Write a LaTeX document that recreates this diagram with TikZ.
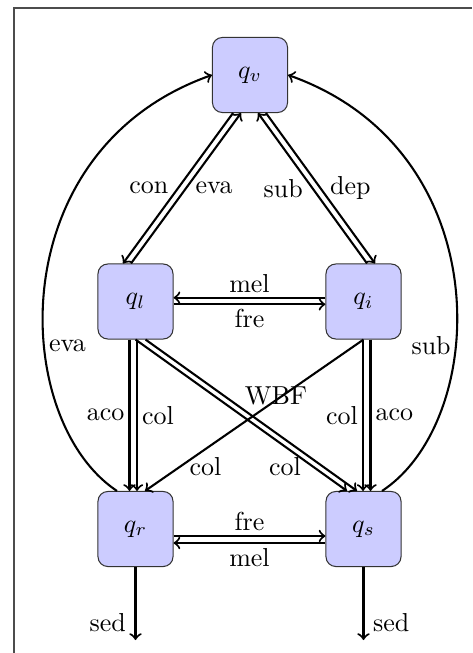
\documentclass[tikz,border=0pt]{standalone}
\usetikzlibrary{calc}
\begin{document}
\begin{tikzpicture}[x=0.385pt,y=-0.385pt,
  state/.style={draw=black!80, fill=blue!20, rounded corners=3.8pt, minimum width=28.9pt, minimum height=28.9pt, inner sep=0pt},
  arr/.style={->, thick},
  near/.style={inner sep=1.6pt},
  frameline/.style={draw=black!70, line width=0.45pt}]
\useasboundingbox (0,0) rectangle (472,653);
\draw[frameline] (14,653) -- (14,8) -- (472,8);
\node[state] (qv) at (250,75) {$q_v$};
\node[state] (ql) at (135.5,301.5) {$q_l$};
\node[state] (qi) at (363.5,301.5) {$q_i$};
\node[state] (qr) at (135.5,529) {$q_r$};
\node[state] (qs) at (363.5,529) {$q_s$};
\coordinate (qrout) at (135.5,640);
\coordinate (qsout) at (363.5,640);
% q_v <-> q_l
\draw[arr] ([shift={(-17,0)}]qv.south) -- node[left]{con} ([shift={(-12.5,0)}]ql.north);
\draw[arr] ([shift={(-4.5,0)}]ql.north) -- node[right]{eva} ([shift={(-9,0)}]qv.south);
% q_v <-> q_i
\draw[arr] ([shift={(3.5,0)}]qi.north) -- node[left]{sub} ([shift={(8,0)}]qv.south);
\draw[arr] ([shift={(16,0)}]qv.south) -- node[right]{dep} ([shift={(11.5,0)}]qi.north);
% q_l <-> q_i
\draw[arr] ([shift={(0,-3.8)}]qi.west) -- node[near, above]{mel} ([shift={(0,-3.8)}]ql.east);
\draw[arr] ([shift={(0,2.8)}]ql.east) -- node[near, below]{fre} ([shift={(0,2.8)}]qi.west);
% q_r <-> q_s
\draw[arr] ([shift={(0,7)}]qr.east) -- node[near, above]{fre} ([shift={(0,7)}]qs.west);
\draw[arr] ([shift={(0,14)}]qs.west) -- node[near, below]{mel} ([shift={(0,14)}]qr.east);
% verticals
\draw[arr] ([shift={(-6,0)}]ql.south) -- node[near, left]{aco} ([shift={(-6,0)}]qr.north);
\draw[arr] ([shift={(1.5,0)}]ql.south) -- node[near, right]{col} ([shift={(1.5,0)}]qr.north);
\draw[arr] ([shift={(-0.5,0)}]qi.south) -- node[near, left]{col} ([shift={(-0.5,0)}]qs.north);
\draw[arr] ([shift={(7,0)}]qi.south) -- node[near, right]{aco} ([shift={(7,0)}]qs.north);
% diagonals
\draw[arr] ([shift={(10,0)}]ql.south) -- node[pos=0.447, anchor=south west, inner sep=1.5pt, yshift=-1.1pt]{WBF} ([shift={(-6.5,0)}]qs.north);
\draw[arr] (ql.south) -- node[pos=0.84, left, xshift=-1pt]{col} ([shift={(-16.5,0)}]qs.north);
\draw[arr] (qi.south) -- node[pos=0.84, right]{col} ([shift={(9.5,0)}]qr.north);
% curves
\draw[arr] ([shift={(-18.5,0)}]qr.north) .. controls (10,420) and (0,150) .. node[near, pos=0.38, right]{eva} (qv.west);
\draw[arr] ([shift={(18.5,0)}]qs.north) .. controls (490,420) and (500,150) .. node[near, pos=0.38, left]{sub} (qv.east);
% outputs
\draw[arr] (qr.south) -- node[pos=0.757, left]{sed} (qrout);
\draw[arr] (qs.south) -- node[pos=0.757, right]{sed} (qsout);
\end{tikzpicture}
\end{document}
